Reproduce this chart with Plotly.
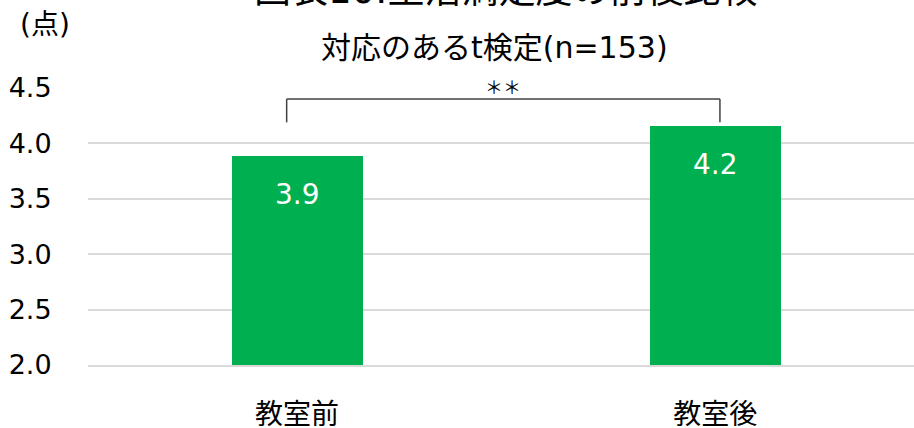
import plotly.graph_objects as go

# Data
categories = ["教室前", "教室後"]
scores = [3.89, 4.16]
y_ticks = [2.0, 2.5, 3.0, 3.5, 4.0, 4.5]
title_text = "図表10:生活満足度の前後比較"
subtitle_text = "対応のあるt検定(n=153)"
unit_text = "(点)"
sig_text = "＊＊"

FONT = "DejaVu Sans, Noto Sans CJK JP, sans-serif"
GREEN = "#00b050"
GRID = "#d9d9d9"

PLOT_L, PLOT_T, PLOT_W, PLOT_H = 88, 88, 826, 277


def paper_x(px):
    return (px - PLOT_L) / PLOT_W


def paper_y(py):
    return 1 + (PLOT_T - py) / PLOT_H


fig = go.Figure()

fig.add_trace(go.Bar(
    x=categories,
    y=scores,
    marker=dict(color=GREEN, line=dict(width=0)),
    width=0.313,
    hoverinfo="skip",
))

# Value labels inside the bars, near the top
for cat, val in zip(categories, scores):
    fig.add_annotation(
        x=cat, y=val, xref="x", yref="y",
        text=f"{val:.1f}", showarrow=False,
        yanchor="middle", yshift=-39,
        font=dict(family=FONT, size=28, color="white"),
    )

# Significance bracket between the two bars
br_left, br_right = -0.025, 1.011
br_top, br_foot = 4.40, 4.19
for x0, y0, x1, y1 in [
    (br_left, br_foot, br_left, br_top),
    (br_left, br_top, br_right, br_top),
    (br_right, br_top, br_right, br_foot),
]:
    fig.add_shape(type="line", xref="x", yref="y", x0=x0, y0=y0, x1=x1, y1=y1,
                  line=dict(color="#404040", width=1.5))
fig.add_annotation(
    x=(br_left + br_right) / 2, y=br_top, xref="x", yref="y",
    text=sig_text, showarrow=False, yanchor="bottom", yshift=-2,
    font=dict(family="Noto Sans CJK JP", size=18, color="#000000"),
)

# Title (partly above the top edge), subtitle and unit label
fig.add_annotation(
    x=paper_x(506), xref="paper", y=paper_y(-10), yref="paper", text=title_text,
    showarrow=False, yanchor="middle", xanchor="center",
    font=dict(family=FONT, size=37, color="#000000"),
)
fig.add_annotation(
    x=paper_x(494), xref="paper", y=paper_y(47), yref="paper", text=subtitle_text,
    showarrow=False, yanchor="middle", xanchor="center",
    font=dict(family=FONT, size=30, color="#000000"),
)
fig.add_annotation(
    x=paper_x(45), xref="paper", y=paper_y(25), yref="paper", text=unit_text,
    showarrow=False, yanchor="middle", xanchor="center",
    font=dict(family=FONT, size=28, color="#000000"),
)

fig.update_layout(
    width=914, height=428,
    margin=dict(l=PLOT_L, r=914 - PLOT_L - PLOT_W, t=PLOT_T, b=428 - PLOT_T - PLOT_H,
                autoexpand=False),
    paper_bgcolor="white", plot_bgcolor="white",
    showlegend=False,
    bargap=0,
    xaxis=dict(
        range=[-0.5, 1.475],
        showgrid=False, zeroline=False,
        showline=True, linecolor=GRID, linewidth=1.5,
        ticks="outside", ticklen=24, tickcolor="rgba(0,0,0,0)",
        tickfont=dict(family=FONT, size=28, color="#000000"),
        automargin=False,
        fixedrange=True,
    ),
    yaxis=dict(
        range=[2.0, 4.5],
        tickvals=y_ticks,
        ticktext=[f"{v:.1f}" for v in y_ticks],
        showgrid=True, gridcolor=GRID, gridwidth=1.5,
        zeroline=False, showline=False,
        ticks="outside", ticklen=30, tickcolor="rgba(0,0,0,0)",
        tickfont=dict(family=FONT, size=27, color="#000000"),
        automargin=False,
        fixedrange=True,
    ),
)

fig.write_html("out.html")
